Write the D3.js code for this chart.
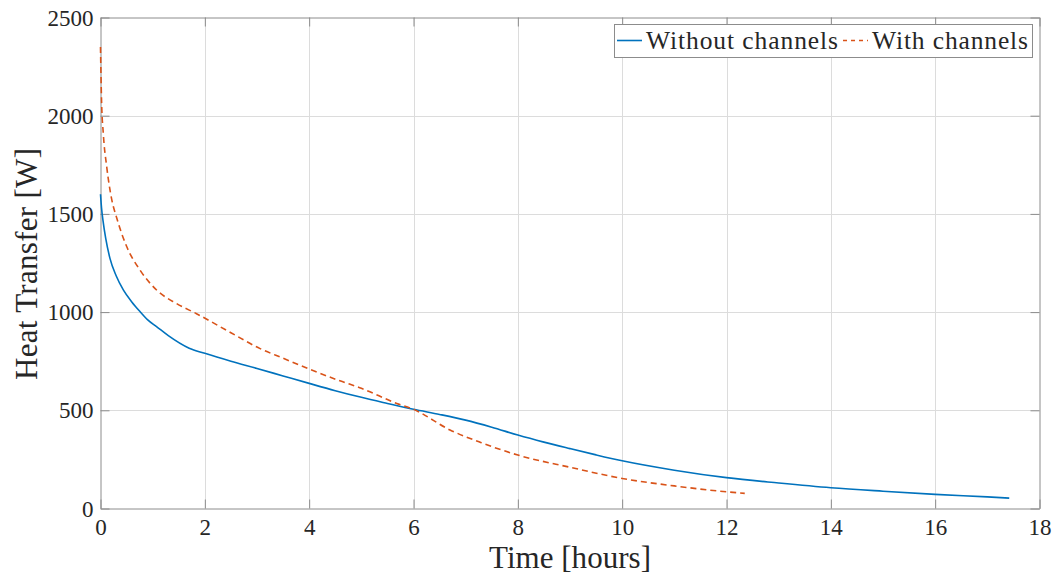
<!DOCTYPE html>
<html>
<head>
<meta charset="utf-8">
<script src="https://cdn.jsdelivr.net/npm/d3@7"></script>
<style>
  html, body { margin: 0; padding: 0; background: #fff; }
  svg { display: block; }
  text { font-family: "Liberation Serif", "Times New Roman", serif; fill: #262626; }
</style>
</head>
<body>
<svg id="chart" width="1053" height="579"></svg>
<script>
// ---- Data ----
const seriesNames = ["Without channels", "With channels"];
const timeWithout = [0, 0.02, 0.05, 0.1, 0.18, 0.3, 0.44, 0.6, 0.76, 0.9, 1.08, 1.3, 1.7, 2, 2.5, 3, 3.5, 4, 4.5, 5, 5.5, 6, 6.5, 7, 7.5, 8, 8.5, 9, 9.5, 10, 11, 12, 13, 14, 15, 16, 17, 17.42];
const heatWithout = [1600, 1530, 1462, 1375, 1275, 1185, 1112, 1052, 1002, 962, 925, 880, 816, 790, 750, 713, 675, 637, 600, 566, 535, 505, 479, 450, 414, 374, 338, 305, 273, 243, 195, 157, 130, 106, 88, 72, 59, 53];
const timeWith = [0, 0.02, 0.054, 0.12, 0.21, 0.31, 0.5, 0.76, 1.08, 1.46, 1.84, 2.5, 3.06, 3.5, 4, 4.59, 5, 5.68, 6, 6.7, 7.3, 8, 9, 10, 11, 12, 12.35];
const heatWith = [2350, 2077, 1908, 1738, 1580, 1480, 1335, 1213, 1111, 1043, 992, 895, 814, 765, 710, 650, 612, 535, 505, 400, 335, 272, 210, 153, 115, 85, 77];
const xTicks = [0, 2, 4, 6, 8, 10, 12, 14, 16, 18];
const yTicks = [0, 500, 1000, 1500, 2000, 2500];
const xLabel = "Time [hours]";
const yLabel = "Heat Transfer [W]";

// ---- Layout ----
const svg = d3.select("#chart");
const L = 100.5, R = 1039.5, T = 17.5, B = 508.5;
const x = d3.scaleLinear().domain([0, 18]).range([L, R]);
const y = d3.scaleLinear().domain([0, 2500]).range([B, T]);
const colors = ["#0072BD", "#D95319"];
const axisColor = "#8c8c8c";
const tickLen = 9;

// grid
const g = svg.append("g");
g.selectAll("line.gx").data(xTicks.slice(1, -1)).join("line")
  .attr("x1", d => Math.round(x(d)) + 0.5).attr("x2", d => Math.round(x(d)) + 0.5)
  .attr("y1", T).attr("y2", B).attr("stroke", "#dcdcdc").attr("stroke-width", 1);
g.selectAll("line.gy").data(yTicks.slice(1, -1)).join("line")
  .attr("y1", d => Math.round(y(d)) + 0.5).attr("y2", d => Math.round(y(d)) + 0.5)
  .attr("x1", L).attr("x2", R).attr("stroke", "#dcdcdc").attr("stroke-width", 1);

// axes via d3 axis
const fmt = d3.format("d");
const xAxisB = svg.append("g").attr("transform", `translate(0,${B})`)
  .call(d3.axisBottom(x).tickValues(xTicks).tickFormat(fmt).tickSizeInner(-tickLen).tickSizeOuter(0).tickPadding(10));
const xAxisT = svg.append("g").attr("transform", `translate(0,${T})`)
  .call(d3.axisTop(x).tickValues(xTicks).tickFormat("").tickSizeInner(-tickLen).tickSizeOuter(0));
const yAxisL = svg.append("g").attr("transform", `translate(${L},0)`)
  .call(d3.axisLeft(y).tickValues(yTicks).tickFormat(fmt).tickSizeInner(-tickLen).tickSizeOuter(0).tickPadding(7));
const yAxisR = svg.append("g").attr("transform", `translate(${R},0)`)
  .call(d3.axisRight(y).tickValues(yTicks).tickFormat("").tickSizeInner(-tickLen).tickSizeOuter(0));
[xAxisB, xAxisT, yAxisL, yAxisR].forEach(a => {
  a.attr("font-family", null).attr("font-size", null);
  a.select(".domain").attr("stroke", axisColor).attr("stroke-width", 1);
  a.selectAll(".tick line").attr("stroke", axisColor).attr("stroke-width", 1);
  a.selectAll("text").style("font-family", "'Liberation Serif', serif").style("font-size", "23px").attr("fill", "#262626");
});
xAxisB.selectAll("text").attr("dy", "0.71em");
yAxisL.selectAll("text").attr("dy", "0.33em");

// lines
const line = d3.line().x(d => x(d[0])).y(d => y(d[1])).curve(d3.curveMonotoneX);
const dataWithout = timeWithout.map((t, i) => [t, heatWithout[i]]);
const dataWith = timeWith.map((t, i) => [t, heatWith[i]]);
svg.append("path").datum(dataWithout).attr("d", line)
  .attr("fill", "none").attr("stroke", colors[0]).attr("stroke-width", 1.6);
svg.append("path").datum(dataWith).attr("d", line)
  .attr("fill", "none").attr("stroke", colors[1]).attr("stroke-width", 1.6)
  .attr("stroke-dasharray", "6,4");

// axis labels
svg.append("text").attr("x", (L + R) / 2).attr("y", 568).attr("text-anchor", "middle")
  .attr("font-size", 31).attr("textLength", 162).attr("lengthAdjust", "spacing").text(xLabel);
svg.append("text").attr("transform", `translate(37,${(T + B) / 2 + 1}) rotate(-90)`)
  .attr("text-anchor", "middle").attr("font-size", 31)
  .attr("textLength", 232).attr("lengthAdjust", "spacing").text(yLabel);

// legend
const lg = svg.append("g");
lg.append("rect").attr("x", 614.5).attr("y", 24.5).attr("width", 418).attr("height", 33)
  .attr("fill", "#fff").attr("stroke", axisColor).attr("stroke-width", 1);
lg.append("line").attr("x1", 617).attr("x2", 642).attr("y1", 40.5).attr("y2", 40.5)
  .attr("stroke", colors[0]).attr("stroke-width", 1.6);
lg.append("text").attr("x", 646).attr("y", 48.5).attr("font-size", 25.5)
  .attr("textLength", 192).attr("lengthAdjust", "spacing").text(seriesNames[0]);
lg.append("line").attr("x1", 843).attr("x2", 868).attr("y1", 40.5).attr("y2", 40.5)
  .attr("stroke", colors[1]).attr("stroke-width", 1.6).attr("stroke-dasharray", "4,4");
lg.append("text").attr("x", 872).attr("y", 48.5).attr("font-size", 25.5)
  .attr("textLength", 156).attr("lengthAdjust", "spacing").text(seriesNames[1]);
</script>
</body>
</html>
